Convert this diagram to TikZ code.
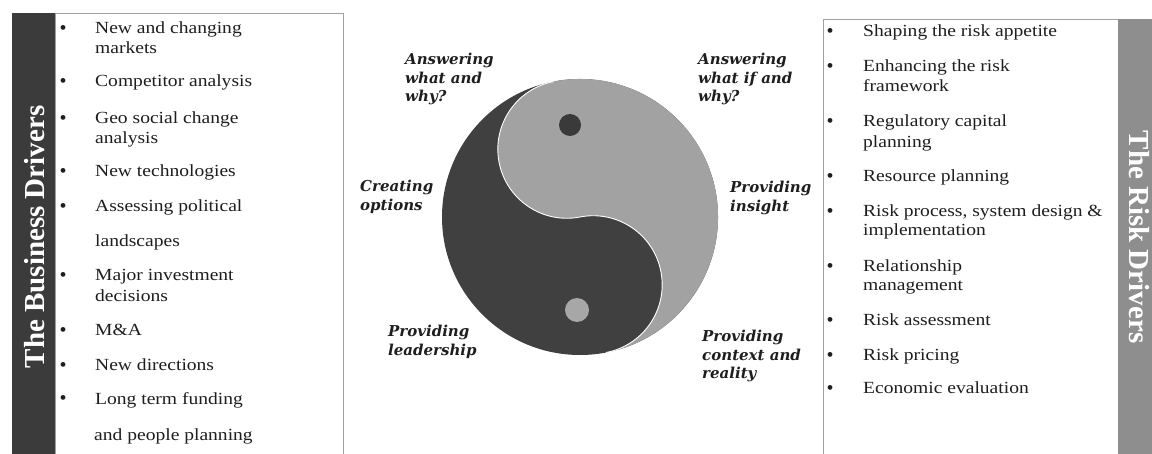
\documentclass[tikz,border=0pt]{standalone}
\usepackage{fontspec}
\setmainfont{Liberation Serif}
\newfontfamily\itemfont[FakeStretch=1.15]{Liberation Serif}
\newfontfamily\labfont{DejaVu Serif}
\definecolor{yinD}{HTML}{404040}
\definecolor{yangL}{HTML}{A2A2A2}
\definecolor{barD}{HTML}{3B3B3B}
\definecolor{barG}{HTML}{8E8E8E}
\definecolor{txt}{HTML}{1E1E1E}
\definecolor{frame}{HTML}{A0A0A0}
\begin{document}
\begin{tikzpicture}[x=1pt,y=-1pt,
  item/.style={anchor=west, inner sep=0pt, font=\itemfont\fontsize{17}{20}\selectfont, text=txt, text height=12pt, text depth=4pt},
  bul/.style={anchor=center, inner sep=0pt, font=\fontsize{20}{20}\selectfont, text=txt},
  lab/.style={anchor=west, inner sep=0pt, align=left, font=\labfont\bfseries\itshape\fontsize{15}{18.5}\selectfont, text=txt},
  title/.style={inner sep=0pt, text=white, font=\bfseries\fontsize{29}{32}\selectfont},
  boxline/.style={draw=frame, line width=0.8pt}]
\useasboundingbox (0,0) rectangle (1152,454);
\fill[white] (0,0) rectangle (1152,454);
% left panel
\fill[barD] (12,13) rectangle (55,454);
\draw[boxline] (55,454) -- (55,13) -- (343,13) -- (343,454);
\node[title, rotate=90] (bdtitle) at (35,237) {The Business Drivers};
% right panel
\fill[barG] (1118,19) rectangle (1152,454);
\draw[boxline] (1118,19) -- (823,19) -- (823,454);
\node[title, rotate=-90] (rdtitle) at (1139,237) {The Risk Drivers};
% left items
\foreach \n/\y in {a/30,b/83,c/120,d/173,e/208,f/277,g/332,h/367,i/400}
  \node[bul] (lb\n) at (63,\y) {•};
\node[item] (l1) at (95,30) {New and changing};
\node[item] (l1b) at (95,50) {markets};
\node[item] (l2) at (95,83) {Competitor analysis};
\node[item] (l3) at (95,120) {Geo social change};
\node[item] (l3b) at (95,140) {analysis};
\node[item] (l4) at (95,173) {New technologies};
\node[item] (l5) at (95,208) {Assessing political};
\node[item] (l5b) at (95,243) {landscapes};
\node[item] (l6) at (95,277) {Major investment};
\node[item] (l6b) at (95,298) {decisions};
\node[item] (l7) at (95,332) {M\&A};
\node[item] (l8) at (95,367) {New directions};
\node[item] (l9) at (95,401) {Long term funding};
\node[item] (l9b) at (94,436) {and people planning};
% right items
\foreach \n/\y in {a/33,b/68,c/123,d/178,e/213,f/268,g/322,h/357,i/390}
  \node[bul] (rb\n) at (830,\y) {•};
\node[item] (r1) at (863,33) {Shaping the risk appetite};
\node[item] (r2) at (863,68) {Enhancing the risk};
\node[item] (r2b) at (863,88) {framework};
\node[item] (r3) at (863,123) {Regulatory capital};
\node[item] (r3b) at (863,144) {planning};
\node[item] (r4) at (863,178) {Resource planning};
\node[item] (r5) at (863,213) {Risk process, system design \&};
\node[item] (r5b) at (863,232) {implementation};
\node[item] (r6) at (863,268) {Relationship};
\node[item] (r6b) at (863,287) {management};
\node[item] (r7) at (863,322) {Risk assessment};
\node[item] (r8) at (863,357) {Risk pricing};
\node[item] (r9) at (863,390) {Economic evaluation};
% yin yang
\node[circle, fill=yinD, minimum size=276pt, inner sep=0pt] (yy) at (580,217) {};
\begin{scope}[shift={(580,217)}, rotate=11]
  \fill[yangL] (0pt,138pt) arc[start angle=90, end angle=-90, radius=138pt]
     arc[start angle=-90, end angle=90, radius=69pt]
     arc[start angle=-90, end angle=-270, radius=69pt] -- cycle;
  \draw[white, line width=0.9pt] (0pt,138pt) arc[start angle=90, end angle=270, radius=69pt]
     arc[start angle=90, end angle=-90, radius=69pt];
\end{scope}
\node[circle, fill=yinD!90!black, minimum size=22pt, inner sep=0pt] (dd) at (570,125) {};
\node[circle, fill=yangL!95!white, minimum size=24pt, inner sep=0pt] (ld) at (577,310) {};
% labels
\node[lab] (q1) at (405,79) {Answering\\what and\\why?};
\node[lab] (q2) at (698,79) {Answering\\what if and\\why?};
\node[lab] (q3) at (360,197) {Creating\\options};
\node[lab] (q4) at (730,198) {Providing\\insight};
\node[lab] (q5) at (388,342) {Providing\\leadership};
\node[lab] (q6) at (702,356) {Providing\\context and\\reality};
\end{tikzpicture}
\end{document}
